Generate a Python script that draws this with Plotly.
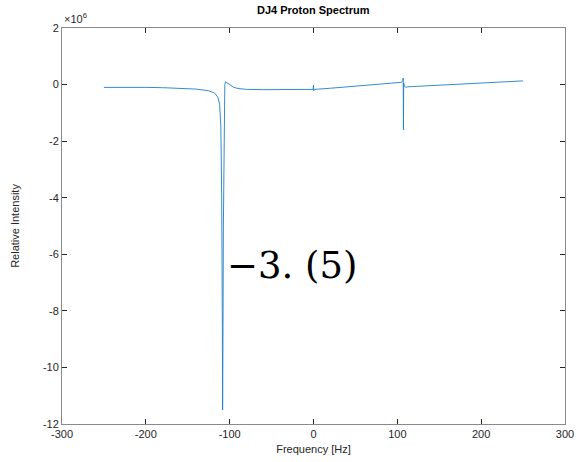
import plotly.graph_objects as go

# Frequency [Hz] and relative intensity (in units of 1e6)
freq_hz = [-250, -230, -200, -180, -160, -140, -125, -118, -114, -112, -110.5, -109.5,
           -108.8, -108.4, -108.0, -107.5, -107.0, -106.5, -105.8, -105, -104, -102,
           -100, -95, -90, -80, -60, -40, -20, -5, -0.5, 0.0, 0.3, 1, 20, 40, 60, 80,
           100, 105, 106.5, 107.0, 107.3, 107.6, 108.5, 110, 112, 130, 150, 170, 200,
           220, 240, 250]
intensity_e6 = [-0.10, -0.09, -0.10, -0.11, -0.13, -0.16, -0.22, -0.30, -0.45, -0.70,
                -1.5, -4.0, -8.0, -11.5, -9.0, -5.0, -2.0, -0.6, 0.0, 0.10, 0.08, 0.02,
                -0.03, -0.10, -0.14, -0.17, -0.18, -0.18, -0.18, -0.18, -0.17, -0.02,
                -0.22, -0.17, -0.13, -0.08, -0.04, 0.00, 0.05, 0.08, 0.15, 0.23, -1.6,
                0.05, -0.05, -0.10, -0.08, -0.05, -0.02, 0.02, 0.06, 0.10, 0.12, 0.13]

x_ticks = [-300, -200, -100, 0, 100, 200, 300]
y_ticks = [-12, -10, -8, -6, -4, -2, 0, 2]

axis_col = "#8a8a8a"
txt_col = "#262626"
font_family = "Liberation Sans, Arial, sans-serif"

fig = go.Figure()
fig.add_trace(go.Scatter(x=freq_hz, y=intensity_e6, mode="lines",
                         line=dict(color="#1f7fc4", width=0.9), hoverinfo="skip"))

fig.update_layout(
    width=577, height=462,
    margin=dict(l=62, r=12, t=28, b=38),
    paper_bgcolor="white", plot_bgcolor="white",
    showlegend=False,
    font=dict(family=font_family, size=11, color=txt_col),
)
fig.update_xaxes(
    range=[-300, 300], tickvals=x_ticks, ticktext=[str(v) for v in x_ticks],
    ticks="inside", ticklen=5, tickcolor=txt_col, mirror="ticks", automargin=False,
    showline=True, linecolor=axis_col, linewidth=1, showgrid=False, zeroline=False,
    title=dict(text="Frequency [Hz]", font=dict(size=11, color=txt_col), standoff=6),
    tickfont=dict(size=11, color=txt_col),
)
fig.update_yaxes(
    range=[-12, 2], tickvals=y_ticks, ticktext=[str(v) for v in y_ticks],
    ticks="inside", ticklen=5, tickcolor=txt_col, mirror="ticks", automargin=False,
    showline=True, linecolor=axis_col, linewidth=1, showgrid=False, zeroline=False,
    title=dict(text="Relative Intensity", font=dict(size=11, color=txt_col), standoff=21),
    tickfont=dict(size=11, color=txt_col),
)

fig.add_annotation(text="<b>DJ4 Proton Spectrum</b>", xref="paper", yref="paper",
                   x=0.5, y=1, xanchor="center", yanchor="bottom", yshift=10,
                   showarrow=False, font=dict(size=11, color="black", family=font_family))
fig.add_annotation(text="×10<sup>6</sup>", xref="paper", yref="paper",
                   x=0, y=1, xanchor="left", yanchor="bottom", yshift=1,
                   showarrow=False, font=dict(size=11, color=txt_col, family=font_family))
fig.add_annotation(text="−3. (5)", xref="paper", yref="paper",
                   x=(292 - 62) / 503, y=(424 - 265) / 396, xanchor="center", yanchor="middle",
                   showarrow=False, font=dict(size=37, color="black", family="DejaVu Serif"))

fig.write_html("out.html")
